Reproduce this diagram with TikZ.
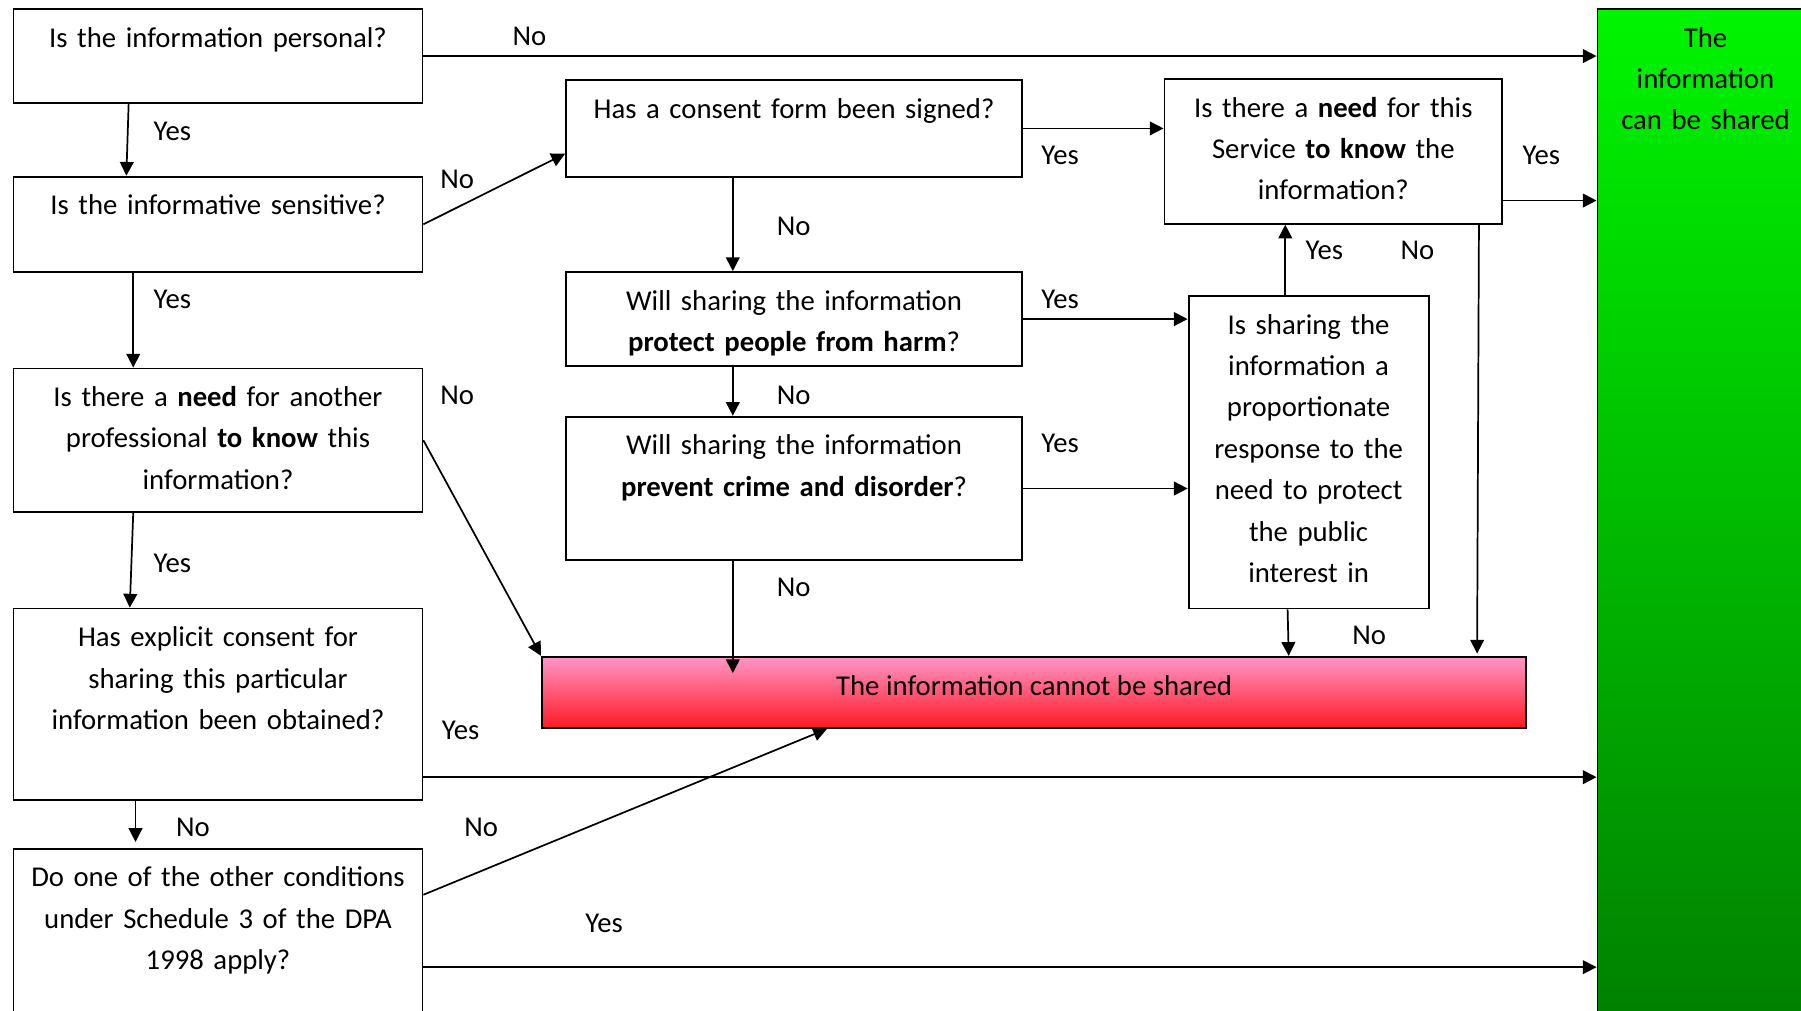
\documentclass[tikz,border=0pt]{standalone}
\usepackage{fontspec}
\setmainfont{Carlito}
\usetikzlibrary{arrows.meta}
\definecolor{nopink}{RGB}{255,150,200}
\definecolor{nored}{RGB}{255,25,35}
\definecolor{yesgreen}{RGB}{0,245,0}
\definecolor{yesdark}{RGB}{0,126,0}
\newcommand{\qtext}[2]{\parbox[c][#1][t]{\linewidth}{\centering\rule{0pt}{16.6pt}#2}}

\begin{document}
\begin{tikzpicture}[x=.5pt,y=-.5pt,
  font=\fontsize{12.5}{18}\selectfont, >={Triangle[length=6pt,width=6pt]},
  qbox/.style={draw,line width=.8pt,fill=white,inner sep=0pt,anchor=north west},
  leftq/.style={qbox,text width=178pt},
  midq/.style={qbox,text width=198.5pt},
  arr/.style={->,line width=.75pt},
  lbl/.style={inner sep=0pt,text height=7.2pt,text depth=0pt}
]
\useasboundingbox (0,0) rectangle (1568,880);
\clip (0,0) rectangle (1568,880);

% left column
\node[leftq] (personal) at (11,7) {\qtext{41pt}{Is the information personal?}};
\node[leftq] (sensitive) at (11,153) {\qtext{41.5pt}{Is the informative sensitive?}};
\node[leftq] (needother) at (11,320) {\qtext{62.5pt}{Is there a \textbf{need} for another\\professional \textbf{to know} this\\information?}};
\node[leftq] (explicit) at (11,529) {\qtext{83.5pt}{Has explicit consent for\\sharing this particular\\information been obtained?}};
\node[leftq] (dpa) at (11,738) {\qtext{85pt}{Do one of the other conditions\\under Schedule 3 of the DPA\\1998 apply?}};

% middle column
\node[midq] (consent) at (492,69) {\qtext{42pt}{Has a consent form been signed?}};
\node[midq] (harm) at (492,236) {\qtext{41pt}{Will sharing the information\\\textbf{protect people from harm}?}};
\node[midq] (crime) at (492,362) {\qtext{62.5pt}{Will sharing the information\\\textbf{prevent crime and disorder}?}};

% right column
\node[qbox,text width=147pt] (needservice) at (1013,68) {\qtext{63pt}{Is there a \textbf{need} for this\\Service \textbf{to know} the\\information?}};
\node[qbox,text width=104.5pt] (proportion) at (1034,257) {\qtext{136pt}{Is sharing the\\information a\\proportionate\\response to the\\need to protect\\the public\\interest in}};

% outcomes
\node[draw,line width=.8pt,anchor=north west,inner sep=0pt,
      minimum width=428.5pt,minimum height=31pt,text height=8.8pt,text depth=6pt,
      top color=nopink,middle color=nopink!80!nored,bottom color=nored] (cannot) at (471,571) {The information cannot be shared};
\node[qbox,text width=94pt,top color=yesgreen,bottom color=yesdark] (shared) at (1390,7) {\qtext{450pt}{The\\information\\can be shared}};

\coordinate (c1) at ([yshift=10.5pt]explicit.south east);
\coordinate (c2) at ([yshift=-52pt]dpa.north east);
\coordinate (c3) at ([yshift=10.5pt]needservice.south east);

% connectors
\draw[arr] (personal.east) -- (personal.east -| shared.west);
\draw[arr] ([xshift=50.5pt]personal.south west) -- ([xshift=49.5pt]sensitive.north west);
\draw[arr] (sensitive.east) -- ([yshift=-11pt]consent.west);
\draw[arr] ([xshift=52.5pt]sensitive.south west) -- ([xshift=52.5pt]needother.north west);
\draw[arr] (needother.east) -- (cannot.north west);
\draw[arr] ([xshift=52.5pt]needother.south west) -- ([xshift=51pt]explicit.north west);
\draw[arr] (c1) -- (c1 -| shared.west);
\draw[arr] ([xshift=53.5pt]explicit.south west) -- ([xshift=53.5pt,yshift=2.5pt]dpa.north west);
\draw[arr] ([yshift=-20.5pt]dpa.north east) -- ([xshift=124.5pt]cannot.south west);
\draw[arr] (c2) -- (c2 -| shared.west);
\draw[arr] (consent.east) -- (consent.east -| needservice.west);
\draw[arr] ([xshift=73pt]consent.south west) -- ([xshift=73pt]harm.north west);
\draw[arr] (harm.east) -- (harm.east -| proportion.west);
\draw[arr] ([xshift=73pt]harm.south west) -- ([xshift=73pt]crime.north west);
\draw[arr] (crime.east) -- (crime.east -| proportion.west);
\draw[arr] ([xshift=73pt]crime.south west) -- ([xshift=83.5pt,yshift=-7.5pt]cannot.north west);
\draw[arr] ([xshift=42.5pt]proportion.north west) -- ([xshift=53pt]needservice.south west);
\draw[arr] ([xshift=43.5pt]proportion.south west) -- ([xshift=325.5pt]cannot.north west);
\draw[arr] ([xshift=-10.5pt]needservice.south east) -- ([xshift=407.5pt,yshift=1pt]cannot.north west);
\draw[arr] (c3) -- (c3 -| shared.west);

% labels
\node[lbl] (lno1) at (461,32) {No};
\node[lbl] (lyes1) at (150,115) {Yes};
\node[lbl] (lno2) at (398,157) {No};
\node[lbl] (lyes2) at (150,261) {Yes};
\node[lbl] (lno3) at (398,345) {No};
\node[lbl] (lyes3) at (150,491) {Yes};
\node[lbl] (lyes4) at (401,637) {Yes};
\node[lbl] (lno4) at (168,721) {No};
\node[lbl] (lno5) at (419,721) {No};
\node[lbl] (lyes5) at (526,805) {Yes};
\node[lbl] (lyes6) at (923,136) {Yes};
\node[lbl] (lno6) at (691,198) {No};
\node[lbl] (lyes7) at (923,261) {Yes};
\node[lbl] (lno7) at (691,345) {No};
\node[lbl] (lyes8) at (923,387) {Yes};
\node[lbl] (lno8) at (691,512) {No};
\node[lbl] (lyes9) at (1153,219) {Yes};
\node[lbl] (lno9) at (1234,219) {No};
\node[lbl] (lno10) at (1192,554) {No};
\node[lbl] (lyes10) at (1342,136) {Yes};
\end{tikzpicture}
\end{document}
